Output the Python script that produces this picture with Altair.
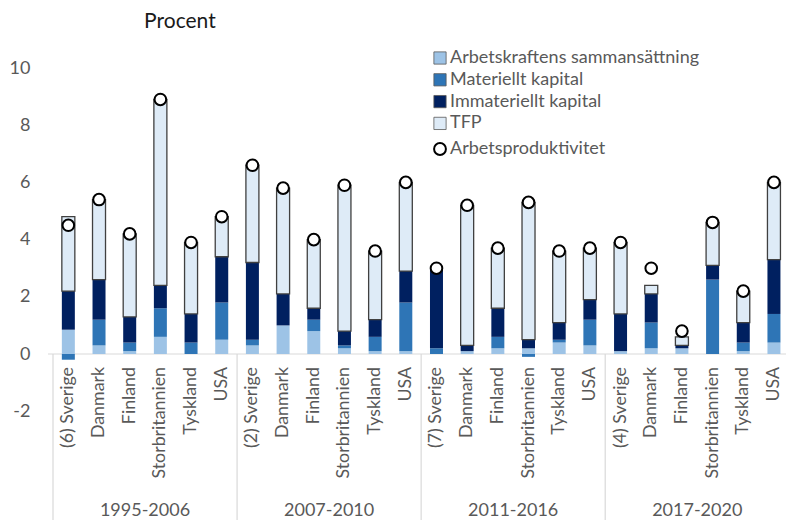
import altair as alt
import pandas as pd

groups = ["1995-2006", "2007-2010", "2011-2016", "2017-2020"]
countries = [
    ["(6) Sverige", "Danmark", "Finland", "Storbritannien", "Tyskland", "USA"],
    ["(2) Sverige", "Danmark", "Finland", "Storbritannien", "Tyskland", "USA"],
    ["(7) Sverige", "Danmark", "Finland", "Storbritannien", "Tyskland", "USA"],
    ["(4) Sverige", "Danmark", "Finland", "Storbritannien", "Tyskland", "USA"],
]
components = ["Arbetskraftens sammansättning", "Materiellt kapital",
              "Immateriellt kapital", "TFP"]
productivity_name = "Arbetsproduktivitet"

labor = [0.85, 0.3, 0.1, 0.6, 0.0, 0.5,
         0.3, 1.0, 0.8, 0.2, 0.1, 0.1,
         0.0, 0.1, 0.2, 0.2, 0.4, 0.3,
         0.1, 0.2, 0.2, 0.0, 0.1, 0.4]
tangible = [-0.2, 0.9, 0.3, 1.0, 0.4, 1.3,
            0.2, 0.0, 0.4, 0.1, 0.5, 1.7,
            0.2, 0.0, 0.4, -0.1, 0.1, 0.9,
            0.0, 0.9, 0.0, 2.6, 0.3, 1.0]
intangible = [1.35, 1.4, 0.9, 0.8, 1.0, 1.6,
              2.7, 1.1, 0.4, 0.5, 0.6, 1.1,
              2.8, 0.2, 1.0, 0.3, 0.6, 0.7,
              1.3, 1.0, 0.1, 0.5, 0.7, 1.9]
tfp = [2.6, 2.8, 2.9, 6.5, 2.5, 1.4,
       3.4, 3.7, 2.4, 5.1, 2.4, 3.1,
       0.0, 4.9, 2.1, 4.8, 2.5, 1.8,
       2.5, 0.3, 0.3, 1.5, 1.1, 2.7]
productivity = [4.5, 5.4, 4.2, 8.9, 3.9, 4.8,
                6.6, 5.8, 4.0, 5.9, 3.6, 6.0,
                3.0, 5.2, 3.7, 5.3, 3.6, 3.7,
                3.9, 3.0, 0.8, 4.6, 2.2, 6.0]

fill_colors = ["#9DC3E6", "#2E75B6", "#002060", "#DEEBF7"]
stroke_colors = ["transparent", "transparent", "transparent", "#404040"]

# ---- layout ----
W_total, H_total = 778, 512
pad_left, pad_top = 40, 37
band = 31.1
ppu = 28.6
zero_px = 346
ymax = (zero_px - pad_top) / ppu
ymin = -(H_total - zero_px) / ppu
plot_w = W_total - pad_left
plot_h = H_total - pad_top
xmax = -0.5 + plot_w / band

# ---- build tables ----
rows, prow, labrows = [], [], []
series = [labor, tangible, intangible, tfp]
idx = 0
for g, grp in enumerate(groups):
    for c in countries[g]:
        for k, comp in enumerate(components):
            rows.append({"idx": idx, "comp": comp, "order": k, "value": series[k][idx]})
        prow.append({"idx": idx, "measure": productivity_name, "value": productivity[idx]})
        labrows.append({"idx": idx, "label": c, "y": 0.0})
        idx += 1
bars_df = pd.DataFrame(rows)
prod_df = pd.DataFrame(prow)
lab_df = pd.DataFrame(labrows)
n_per = len(countries[0])
grp_df = pd.DataFrame({"group": groups,
                       "center": [g * n_per + (n_per - 1) / 2 for g in range(len(groups))],
                       "y": [ymin] * len(groups)})
sep_df = pd.DataFrame({"x": [g * n_per - 0.5 for g in range(len(groups) + 1)],
                       "y0": [0.0] * (len(groups) + 1),
                       "y1": [ymin] * (len(groups) + 1)})
zero_df = pd.DataFrame({"y": [0.0]})

FONT = "Lato"
GRAY = "#595959"
FS = 17.8

xs = alt.Scale(domain=[-0.5, xmax], nice=False, zero=False)
ys = alt.Scale(domain=[ymin, ymax], nice=False, zero=False)

comp_legend = alt.Legend(
    title=None, orient="none", legendX=383, legendY=4,
    labelFont=FONT, labelFontSize=18, labelColor=GRAY,
    symbolType="square", symbolSize=150, symbolOpacity=1,
    symbolStrokeColor="#595959", symbolStrokeWidth=0.8,
    labelOffset=1, rowPadding=3.8, labelLimit=400,
)
prod_legend = alt.Legend(
    title=None, orient="none", legendX=383, legendY=95,
    labelFont=FONT, labelFontSize=18, labelColor=GRAY,
    symbolType="circle", symbolSize=140, symbolOpacity=1,
    symbolFillColor="#FFFFFF", symbolStrokeWidth=2,
    labelOffset=1, labelLimit=400,
)

x_enc = alt.X("idx:Q", scale=xs, axis=None)
yaxis = alt.Axis(values=[-2, 0, 2, 4, 6, 8, 10], domain=False, ticks=False,
                 grid=False, title=None, labelFont=FONT, labelFontSize=18,
                 labelColor=GRAY, labelPadding=18,
                 labelExpr="'' + datum.value")

bars = alt.Chart(bars_df).mark_bar(size=13, strokeWidth=1.3).encode(
    x=x_enc,
    y=alt.Y("value:Q", scale=ys, stack="zero", axis=yaxis),
    fill=alt.Fill("comp:N", scale=alt.Scale(domain=components, range=fill_colors),
                  legend=comp_legend),
    stroke=alt.Stroke("comp:N", scale=alt.Scale(domain=components, range=stroke_colors),
                      legend=None),
    order=alt.Order("order:Q"),
)

zero_rule = alt.Chart(zero_df).mark_rule(color="#D9D9D9", strokeWidth=1.2).encode(
    y=alt.Y("y:Q", scale=ys, axis=yaxis)
)

seps = alt.Chart(sep_df).mark_rule(color="#D9D9D9", strokeWidth=1.2, clip=True).encode(
    x=alt.X("x:Q", scale=xs, axis=None),
    y=alt.Y("y0:Q", scale=ys, axis=yaxis),
    y2="y1:Q",
)

points = alt.Chart(prod_df).mark_point(size=135, opacity=1, filled=False, shape="circle",
                                       fill="#FFFFFF", fillOpacity=1,
                                       strokeWidth=2).encode(
    x=x_enc,
    y=alt.Y("value:Q", scale=ys, axis=yaxis),
    stroke=alt.Stroke("measure:N",
                      scale=alt.Scale(domain=[productivity_name], range=["#000000"]),
                      legend=prod_legend),
)

labels = alt.Chart(lab_df).mark_text(angle=270, align="right", baseline="middle",
                                     dx=-13, font=FONT, fontSize=FS,
                                     color=GRAY).encode(
    x=x_enc,
    y=alt.Y("y:Q", scale=ys, axis=yaxis),
    text="label:N",
)

glabels = alt.Chart(grp_df).mark_text(align="center", baseline="bottom", dy=0,
                                      font=FONT, fontSize=18, color=GRAY).encode(
    x=alt.X("center:Q", scale=xs, axis=None),
    y=alt.Y("y:Q", scale=ys, axis=yaxis),
    text="group:N",
)

chart = alt.layer(zero_rule, seps, bars, points, labels, glabels).properties(
    width=plot_w, height=plot_h,
    autosize=alt.AutoSizeParams(type="none"),
    padding={"left": pad_left, "top": pad_top, "right": 0, "bottom": 0},
    title=alt.TitleParams("Procent", anchor="start", dx=135, offset=13,
                          font=FONT, fontSize=21, fontWeight="normal", color="#1a1a1a"),
).resolve_scale(stroke="independent").configure_view(stroke=None)

chart.save("out.html", embed_options={"renderer": "svg", "actions": False})
